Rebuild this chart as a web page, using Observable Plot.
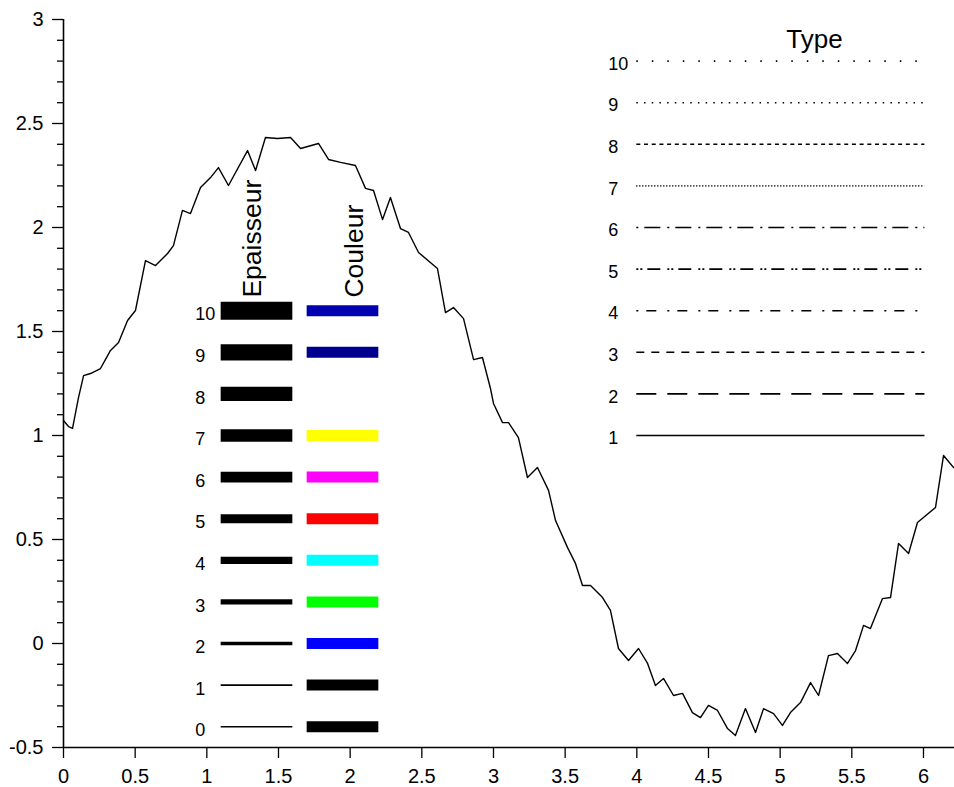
<!DOCTYPE html>
<html><head><meta charset="utf-8">
<script src="https://cdn.jsdelivr.net/npm/d3@7"></script>
<script src="https://cdn.jsdelivr.net/npm/@observablehq/plot@0.6"></script>
<style>html,body{margin:0;padding:0;background:#fff;} svg{display:block}</style>
</head><body><div id="chart"></div>
<script>
// ---- data ----
const curveX = [0,0.035,0.063,0.105,0.140,0.188,0.258,0.328,0.384,0.447,0.502,0.572,0.642,0.726,0.767,0.830,0.886,0.956,1.026,1.081,1.151,1.284,1.340,1.409,1.493,1.584,1.654,1.779,1.849,1.933,2.037,2.107,2.163,2.226,2.281,2.351,2.407,2.477,2.609,2.665,2.721,2.791,2.861,2.923,2.979,3.000,3.063,3.105,3.174,3.237,3.307,3.384,3.433,3.516,3.572,3.621,3.677,3.761,3.816,3.872,3.942,4.012,4.075,4.130,4.186,4.256,4.319,4.388,4.444,4.500,4.563,4.633,4.688,4.758,4.828,4.884,4.954,5.016,5.072,5.142,5.212,5.268,5.337,5.400,5.470,5.526,5.582,5.630,5.714,5.770,5.826,5.896,5.958,6.084,6.140,6.210];
const curveY = [1.072,1.043,1.034,1.183,1.288,1.298,1.322,1.409,1.447,1.553,1.601,1.841,1.817,1.875,1.913,2.082,2.067,2.192,2.240,2.288,2.202,2.370,2.274,2.433,2.428,2.433,2.380,2.404,2.327,2.313,2.298,2.188,2.178,2.038,2.144,1.995,1.976,1.880,1.803,1.591,1.615,1.562,1.365,1.375,1.226,1.154,1.062,1.062,0.990,0.798,0.846,0.736,0.591,0.462,0.385,0.279,0.279,0.221,0.159,-0.024,-0.082,-0.024,-0.096,-0.202,-0.168,-0.250,-0.240,-0.332,-0.356,-0.298,-0.322,-0.409,-0.442,-0.313,-0.428,-0.313,-0.337,-0.394,-0.332,-0.284,-0.188,-0.250,-0.058,-0.048,-0.096,-0.034,0.087,0.072,0.216,0.221,0.481,0.433,0.582,0.654,0.904,0.846];
const thicknessValues = [0,1,2,3,4,5,6,7,8,9,10];
const colorValues = [0,1,2,3,4,5,6,7,8,9,10];
const lineTypes = [1,2,3,4,5,6,7,8,9,10];
const legendTitles = ["Epaisseur","Couleur","Type"];
const xTicks = [0,0.5,1,1.5,2,2.5,3,3.5,4,4.5,5,5.5,6];
const xTickLabels = ["0","0.5","1","1.5","2","2.5","3","3.5","4","4.5","5","5.5","6"];
const yTicks = [-0.5,0,0.5,1,1.5,2,2.5,3];
const yTickLabels = ["-0.5","0","0.5","1","1.5","2","2.5","3"];

// ---- styles ----
const scilabColors = ["#000000","#000000","#0000FF","#00FF00","#00FFFF","#FF0000","#FF00FF","#FFFF00","#FFFFFF","#00008F","#0000B0"];
const dashes = {1:null,2:"20,11",3:"8,7",4:"2,8,10,11",5:"2,2,2,5,13,7",6:"2,6,16,7",7:"1,2",8:"4,3.7",9:"1.5,6.2",10:"1.5,14"};
const FONT = "Liberation Sans, Arial, Helvetica, sans-serif";

const curve = curveX.map((x,i)=>({x, y: curveY[i]}));
const yMinor = d3.range(-5, 31).map(k => k/10).filter(v => Math.abs(v*2 - Math.round(v*2)) > 1e-9);

// legend row layout (data space)
const rowY = t => -0.4 + 0.2*t;
const typeY = t => 0.8 + 0.2*t;
const thickWidth = t => Math.max(1.4, 1.8*t);

const marks = [
  Plot.ruleX([0], {stroke:"black", strokeWidth:1.6}),
  Plot.ruleY([-0.5], {stroke:"black", strokeWidth:1.6}),
  Plot.axisY(yMinor, {anchor:"left", tickSize:6, strokeWidth:1.3, stroke:"black", label:null, tickFormat: () => ""}),
  Plot.axisY(yTicks, {anchor:"left", tickSize:11, tickPadding:9, strokeWidth:1.3, stroke:"black", fill:"black", fontSize:20, label:null, tickFormat: d => yTickLabels[yTicks.indexOf(d)]}),
  Plot.axisX(xTicks, {anchor:"bottom", tickSize:11, tickPadding:10, strokeWidth:1.3, stroke:"black", fill:"black", fontSize:20, label:null, tickFormat: d => xTickLabels[xTicks.indexOf(d)]}),
  Plot.line(curve, {x:"x", y:"y", stroke:"black", strokeWidth:1.4}),
  // thickness legend
  ...thicknessValues.map(t => Plot.ruleY([t], {y: rowY, x1: 1.1, x2: 1.6, stroke:"black", strokeWidth: thickWidth(t)})),
  Plot.text(thicknessValues, {x: 0.92, y: rowY, text: d => String(d), textAnchor:"start", fontSize:18, dy:4, fill:"black"}),
  // colour legend
  ...colorValues.map(c => Plot.ruleY([c], {y: rowY, x1: 1.7, x2: 2.2, stroke: scilabColors[c], strokeWidth: 11})),
  // titles
  Plot.text([legendTitles[0]], {x: 1.38, y: 1.663, text: d=>d, rotate:-90, textAnchor:"start", lineAnchor:"bottom", fontSize:26.5, fill:"black"}),
  Plot.text([legendTitles[1]], {x: 2.09, y: 1.663, text: d=>d, rotate:-90, textAnchor:"start", lineAnchor:"bottom", fontSize:26.5, fill:"black"}),
  Plot.text([legendTitles[2]], {x: 5.24, y: 2.865, text: d=>d, textAnchor:"middle", lineAnchor:"bottom", fontSize:26, fill:"black"}),
  // type legend
  ...lineTypes.map(t => Plot.ruleY([t], {y: typeY, x1: 4, x2: 6.01, stroke:"black", strokeWidth:1.6, strokeDasharray: dashes[t] || undefined})),
  Plot.text(lineTypes, {x: 3.8, y: typeY, text: d => String(d), textAnchor:"start", fontSize:18, dy:3, fill:"black"})
];

const chart = Plot.plot({
  width: 954,
  height: 787,
  marginLeft: 63,
  marginRight: 0,
  marginTop: 19,
  marginBottom: 40,
  x: {domain: [0, 891/143.33]},
  y: {domain: [-0.5, 3]},
  style: {fontFamily: FONT, background: "white", color: "black", overflow: "visible"},
  marks
});
document.getElementById("chart").appendChild(chart);
</script>
</body></html>
